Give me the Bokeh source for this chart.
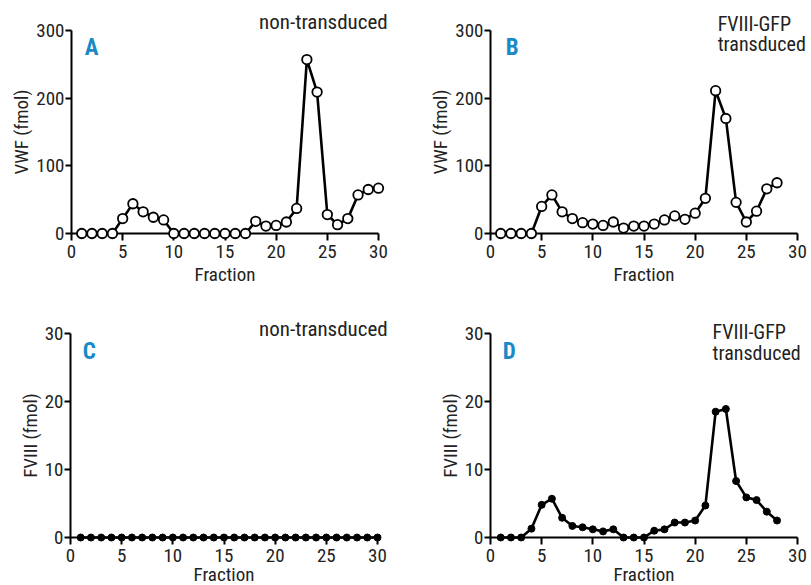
from bokeh.plotting import figure
from bokeh.models import Range1d, FixedTicker
from bokeh.layouts import column, row
from bokeh.core.properties import value
from bokeh.embed import file_html
from bokeh.resources import INLINE

# ---------------- data ----------------
fractions_A = [1, 2, 3, 4, 5, 6, 7, 8, 9, 10, 11, 12, 13, 14, 15,
               16, 17, 18, 19, 20, 21, 22, 23, 24, 25, 26, 27, 28, 29, 30]
vwf_A = [0, 0, 0, 0, 22, 44, 32, 24, 20, 0, 0, 0, 0, 0, 0,
         0, 0, 18, 11, 12, 17, 37, 257, 209, 28, 13, 22, 57, 65, 67]

fractions_B = [1, 2, 3, 4, 5, 6, 7, 8, 9, 10, 11, 12, 13, 14,
               15, 16, 17, 18, 19, 20, 21, 22, 23, 24, 25, 26, 27, 28]
vwf_B = [0, 0, 0, 0, 40, 57, 32, 22, 16, 14, 12, 17, 8, 11,
         11, 14, 20, 26, 21, 30, 52, 211, 170, 46, 17, 33, 66, 75]

fractions_C = [1, 2, 3, 4, 5, 6, 7, 8, 9, 10, 11, 12, 13, 14, 15,
               16, 17, 18, 19, 20, 21, 22, 23, 24, 25, 26, 27, 28, 29, 30]
fviii_C = [0, 0, 0, 0, 0, 0, 0, 0, 0, 0, 0, 0, 0, 0, 0,
           0, 0, 0, 0, 0, 0, 0, 0, 0, 0, 0, 0, 0, 0, 0]

fractions_D = [1, 2, 3, 4, 5, 6, 7, 8, 9, 10, 11, 12, 13, 14,
               15, 16, 17, 18, 19, 20, 21, 22, 23, 24, 25, 26, 27, 28]
fviii_D = [0, 0, 0, 1.3, 4.8, 5.7, 2.9, 1.7, 1.5, 1.2, 0.9, 1.2, 0, 0,
           0, 1.0, 1.2, 2.2, 2.2, 2.5, 4.7, 18.5, 18.9, 8.3, 5.9, 5.5, 3.8, 2.5]

x_ticks = [0, 5, 10, 15, 20, 25, 30]
vwf_ticks = [0, 100, 200, 300]
fviii_ticks = [0, 10, 20, 30]

x_label = "Fraction"
vwf_label = "VWF (fmol)"
fviii_label = "FVIII (fmol)"

FONT = "'Roboto Condensed', 'Liberation Sans Narrow', 'DejaVu Sans Condensed', sans-serif"
TXT = "#222222"
BLUE = "#1a8ac6"


def add_text(p, x, y, t, size, color, align="left", baseline="alphabetic", style="normal"):
    p.text(x=[x], y=[y], text=[t], text_font=value(FONT), text_font_size=size,
           text_color=color, text_align=align, text_baseline=baseline,
           text_font_style=style, level="overlay")


def make_panel(xs, ys, ymax, yticks, ylabel, filled, letter, notes,
               width, height, bl, br, bt, bb, xlabel_axis, xlabel_y=None):
    p = figure(width=width, height=height, output_backend="svg",
               toolbar_location=None, x_range=Range1d(0, 30),
               y_range=Range1d(0, ymax),
               min_border_left=bl, min_border_right=br,
               min_border_top=bt, min_border_bottom=bb)
    p.outline_line_color = None
    p.grid.visible = False
    p.background_fill_color = "white"
    p.border_fill_color = "white"

    for ax in (p.xaxis[0], p.yaxis[0]):
        ax.axis_line_width = 2
        ax.axis_line_color = "black"
        ax.major_tick_line_width = 2
        ax.major_tick_line_color = "black"
        ax.major_tick_in = 0
        ax.minor_tick_line_color = None
        ax.major_label_text_font = FONT
        ax.major_label_text_font_size = "19px"
        ax.major_label_text_color = TXT
        ax.axis_label_text_font = FONT
        ax.axis_label_text_font_size = "19px"
        ax.axis_label_text_font_style = "normal"
        ax.axis_label_text_color = TXT

    p.xaxis.ticker = FixedTicker(ticks=x_ticks)
    p.xaxis.major_tick_out = 7
    p.xaxis.major_label_standoff = 4
    p.yaxis.ticker = FixedTicker(ticks=yticks)
    p.yaxis.major_tick_out = 6
    p.yaxis.major_label_standoff = 1
    p.yaxis.axis_label = ylabel
    p.yaxis.axis_label_standoff = 0

    if xlabel_axis:
        p.xaxis.axis_label = x_label
        p.xaxis.axis_label_standoff = 2
    else:
        add_text(p, 15, xlabel_y, x_label, "19px", TXT, align="center", baseline="top")

    p.line(xs, ys, line_width=2.6, line_color="black", level="overlay")
    if filled:
        p.scatter(xs, ys, marker="circle", size=7, fill_color="black",
                  line_color="black", line_width=1, level="overlay")
    else:
        p.scatter(xs, ys, marker="circle", size=9.5, fill_color="white",
                  line_color="black", line_width=1.8, level="overlay")

    add_text(p, letter[1], letter[2], letter[0], "23px", BLUE, style="bold")
    for (t, nx, ny, align, size) in notes:
        add_text(p, nx, ny, t, size, TXT, align=align)
    return p


pA = make_panel(fractions_A, vwf_A, 300, vwf_ticks, vwf_label, False,
                ("A", 1.3, 275),
                [("non-transduced", 30.9, 312, "right", "21px")],
                418, 300, 71, 40, 30, 67, True)
pB = make_panel(fractions_B, vwf_B, 300, vwf_ticks, vwf_label, False,
                ("B", 1.5, 275),
                [("FVIII-GFP", 22.2, 309, "left", "20px"),
                 ("transduced", 22.2, 279.4, "left", "20px")],
                392, 300, 72, 13, 30, 67, True)
pC = make_panel(fractions_C, fviii_C, 30, fviii_ticks, fviii_label, True,
                ("C", 1.2, 27.4),
                [("non-transduced", 31.0, 30.73, "right", "21px")],
                418, 285, 70, 41, 33, 48, False, -3.75)
pD = make_panel(fractions_D, fviii_D, 30, fviii_ticks, fviii_label, True,
                ("D", 1.2, 27.4),
                [("FVIII-GFP", 21.7, 30.2, "left", "20px"),
                 ("transduced", 21.7, 27.1, "left", "20px")],
                392, 285, 72, 13, 33, 48, False, -3.7)

layout = column(row(pA, pB), row(pC, pD))

open("out.html", "w").write(file_html(layout, INLINE))
